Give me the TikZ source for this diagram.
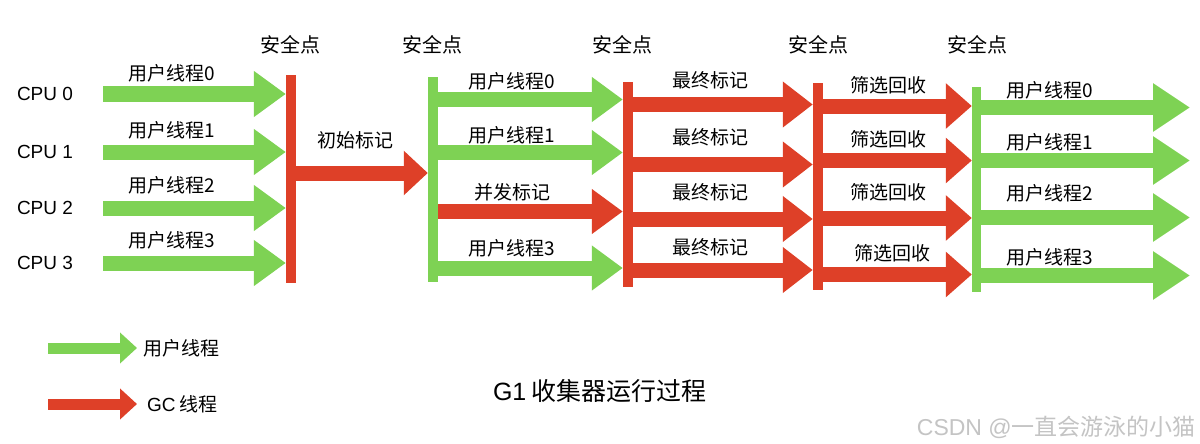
\documentclass[tikz,border=0pt]{standalone}
\usepackage{fontspec}
\setmainfont{Liberation Sans}
\newfontfamily\cjk{Noto Sans CJK SC}
\usetikzlibrary{arrows.meta,positioning}
\definecolor{UserGreen}{RGB}{126,210,84}
\definecolor{GCRed}{RGB}{222,64,40}
\definecolor{MarkGray}{RGB}{196,196,196}
\begin{document}
\begin{tikzpicture}[x=1pt,y=-1pt,every node/.style={font=\cjk\fontsize{19}{22}\selectfont,inner sep=0pt}]
\tikzset{bar/.style={minimum width=10pt,inner sep=0pt},redbar/.style={bar,fill=GCRed},greenbar/.style={bar,fill=UserGreen},
thread/.style={line width=15pt,-{Triangle[length=30pt,width=44pt]}},user/.style={thread,draw=UserGreen},gc/.style={thread,draw=GCRed},
safe/.style={font=\cjk\fontsize{20}{24}\selectfont},cpu/.style={font=\rmfamily\fontsize{19}{22}\selectfont}}
\fill[white] (0,0) rectangle (1200,444);
\useasboundingbox (0,0) rectangle (1200,444);
% safepoint bars
\node[redbar,minimum height=207pt] (sp1) at (291,179) {};
\node[greenbar,minimum height=205pt] (sp2) at (433,179.5) {};
\node[redbar,minimum height=205pt] (sp3) at (628,184.5) {};
\node[redbar,minimum height=207pt] (sp4) at (818,186.5) {};
\node[greenbar,minimum height=205pt,minimum width=9pt] (sp5) at (976.5,189.5) {};
\foreach \x [count=\i] in {290,432,622,818,977}
  \node[safe] (safe\i) at (\x,45) {安全点};
% cpus and user threads before the first safepoint
\foreach \y/\ly [count=\i from 0] in {94/73,152/130,208/185,263/240}{
  \node[cpu] (cpu\i) at (45,\y) {CPU \i};
  \node (ua\i) at (172,\ly) {用户线程\i};
  \coordinate (ra\i) at (103,\y);
  \draw[user,-{Triangle[length=32pt,width=44pt]}] (ra\i) -- (sp1.west |- ra\i);
}
\coordinate (im) at (296,173);
\draw[gc,-{Triangle[length=24pt,width=43pt]}] (im) -- (sp2.west |- im);
\node (init) at (355,140) {初始标记};
% concurrent marking
\foreach \y/\ly/\kind/\txt [count=\i from 0] in {99.5/81/user/用户线程0,152.5/135/user/用户线程1,211.5/192/gc/并发标记,268/248/user/用户线程3}{
  \coordinate (rb\i) at (sp2.east |- 0,\y);
  \draw[\kind,-{Triangle[length=31pt,width=43pt]}] (rb\i) -- (sp3.west |- rb\i);
  \node (cm\i) at (512,\ly) {\txt};
}
% final marking
\foreach \y/\ly [count=\i from 0] in {104.5/80,164.5/137,219/192,270/247}{
  \coordinate (rc\i) at (sp3.east |- 0,\y);
  \draw[gc] (rc\i) -- (sp4.west |- rc\i);
  \node (fm\i) at (710,\ly) {最终标记};
}
% live data counting and evacuation
\foreach \y/\ly/\lx [count=\i from 0] in {106/85/888,160.5/139/888,218/192/888,274.5/253/892}{
  \coordinate (rd\i) at (sp4.east |- 0,\y);
  \draw[gc,-{Triangle[length=26pt,width=44pt]}] (rd\i) -- (sp5.west |- rd\i);
  \node (ev\i) at (\lx,\ly) {筛选回收};
}
% user threads resume
\foreach \y/\ly [count=\i from 0] in {107.5/90,160.5/142,217.5/193,275.5/257}{
  \coordinate (re\i) at (sp5.east |- 0,\y);
  \coordinate (te\i) at (1190,\y);
  \draw[user,-{Triangle[length=37pt,width=46pt]}] (re\i) -- (te\i);
  \node (ub\i) at (1050,\ly) {用户线程\i};
}
% legend
\coordinate (lg1) at (48,348);
\coordinate (lg1e) at (137,348);
\coordinate (lg2) at (48,404);
\coordinate (lg2e) at (137,404);
\draw[user,line width=11pt,-{Triangle[length=17pt,width=30pt]}] (lg1) -- (lg1e);
\draw[gc,line width=11pt,-{Triangle[length=17pt,width=30pt]}] (lg2) -- (lg2e);
\node[font=\cjk\fontsize{19}{24}\selectfont,right=6pt of lg1e] (lgu) {用户线程};
\node[font=\cjk\fontsize{19}{24}\selectfont,right=10pt of lg2e] (lgc) {{\rmfamily GC} 线程};
\node[font=\cjk\fontsize{25}{30}\selectfont] (title) at (600,391) {{\rmfamily G1} 收集器运行过程};
\node[font=\cjk\fontsize{23}{28}\selectfont,text=MarkGray,anchor=east] (mark) at (1196,427) {{\rmfamily CSDN @}一直会游泳的小猫};
\end{tikzpicture}
\end{document}
